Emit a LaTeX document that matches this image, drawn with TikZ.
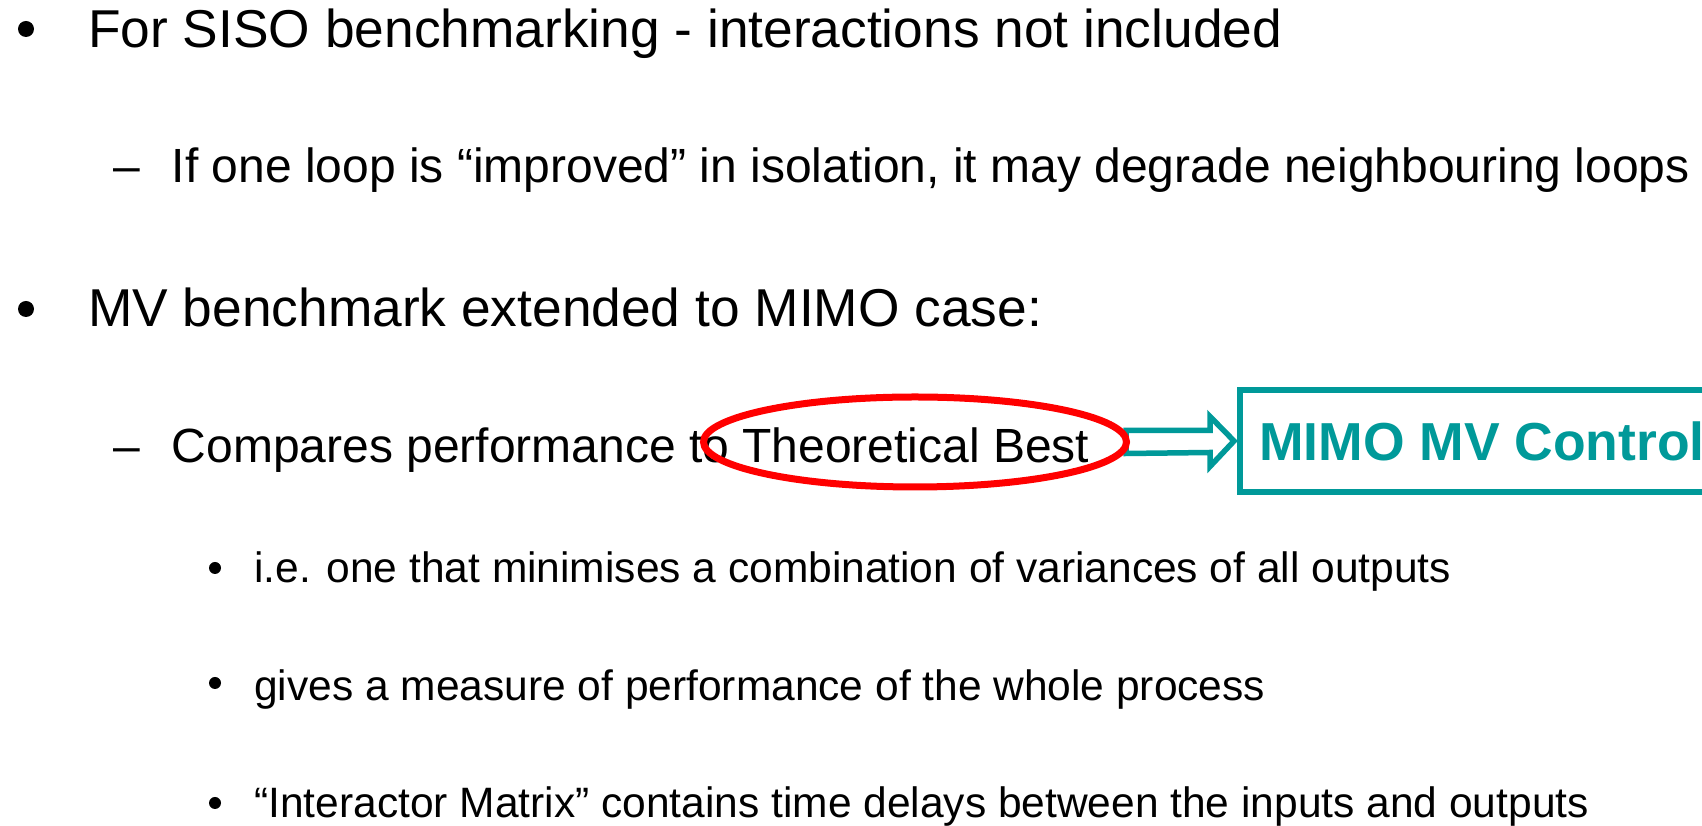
\documentclass[tikz,border=0pt]{standalone}
\usepackage{fontspec}
\setmainfont{Liberation Sans}
\usetikzlibrary{shapes.geometric,backgrounds}
\definecolor{mvteal}{RGB}{0,153,153}
\begin{document}
\begin{tikzpicture}[x=1pt, y=1pt,
    top/.style={anchor=base west, inner sep=0pt, font=\fontsize{53.3}{64}\selectfont},
    big/.style={anchor=base west, inner sep=0pt, font=\fontsize{48}{58}\selectfont},
    small/.style={anchor=base west, inner sep=0pt, font=\fontsize{42.5}{51}\selectfont},
    ring/.style={ellipse, draw=red, line width=7pt, minimum width=423pt, minimum height=90pt, inner sep=0pt},
    mimobox/.style={draw=mvteal, line width=6pt, text=mvteal, inner xsep=19pt, minimum height=102pt,
        font=\fontsize{53.5}{64}\selectfont\bfseries},
    bigarrow/.style={draw=mvteal, fill=white, line width=5.5pt, line join=miter}]
    \useasboundingbox (0,0) rectangle (1702,826);

    % first level
    \fill (26,797) circle (8);
    \node[top] (siso) at (88,778) {For SISO benchmarking - interactions not included};
    \node[big] (dasha) at (113,643) {–};
    \node[big] (loops) at (171.5,643) {If one loop is “improved” in isolation, it may degrade neighbouring loops};

    \fill (26,517) circle (8);
    \node[top] (mv) at (88,499) {MV benchmark extended to MIMO case:};
    \node[big] (dashb) at (113,363) {–};
    \node[big] (comp) at (171.5,363) {Compares performance to Theoretical Best};

    % third level
    \fill (215,258) circle (6);
    \node[small] (ie) at (254,243) {i.e. one that minimises a combination of variances of all outputs};
    \fill (215,143) circle (6);
    \node[small] (gives) at (254,125) {gives a measure of performance of the whole process};
    \fill (215,23) circle (6);
    \node[small] (inter) at (254,8) {“Interactor Matrix” contains time delays between the inputs and outputs};

    % ring and box
    \node[ring] (best) at (915,384) {};
    \node[mimobox, anchor=west] (mimo) at (1237,385) {MIMO MV Control};

    % block arrow
    \begin{scope}[on background layer]
        \draw[bigarrow] ([xshift=-4pt,yshift=11.5pt]best.east) -- ++(84,0) -- ++(0,14)
            -- ([xshift=-3pt]mimo.west) -- ++(-24,-25.5) -- ++(0,14)
            -- ([xshift=-4pt,yshift=-11.5pt]best.east) -- cycle;
    \end{scope}
\end{tikzpicture}
\end{document}
